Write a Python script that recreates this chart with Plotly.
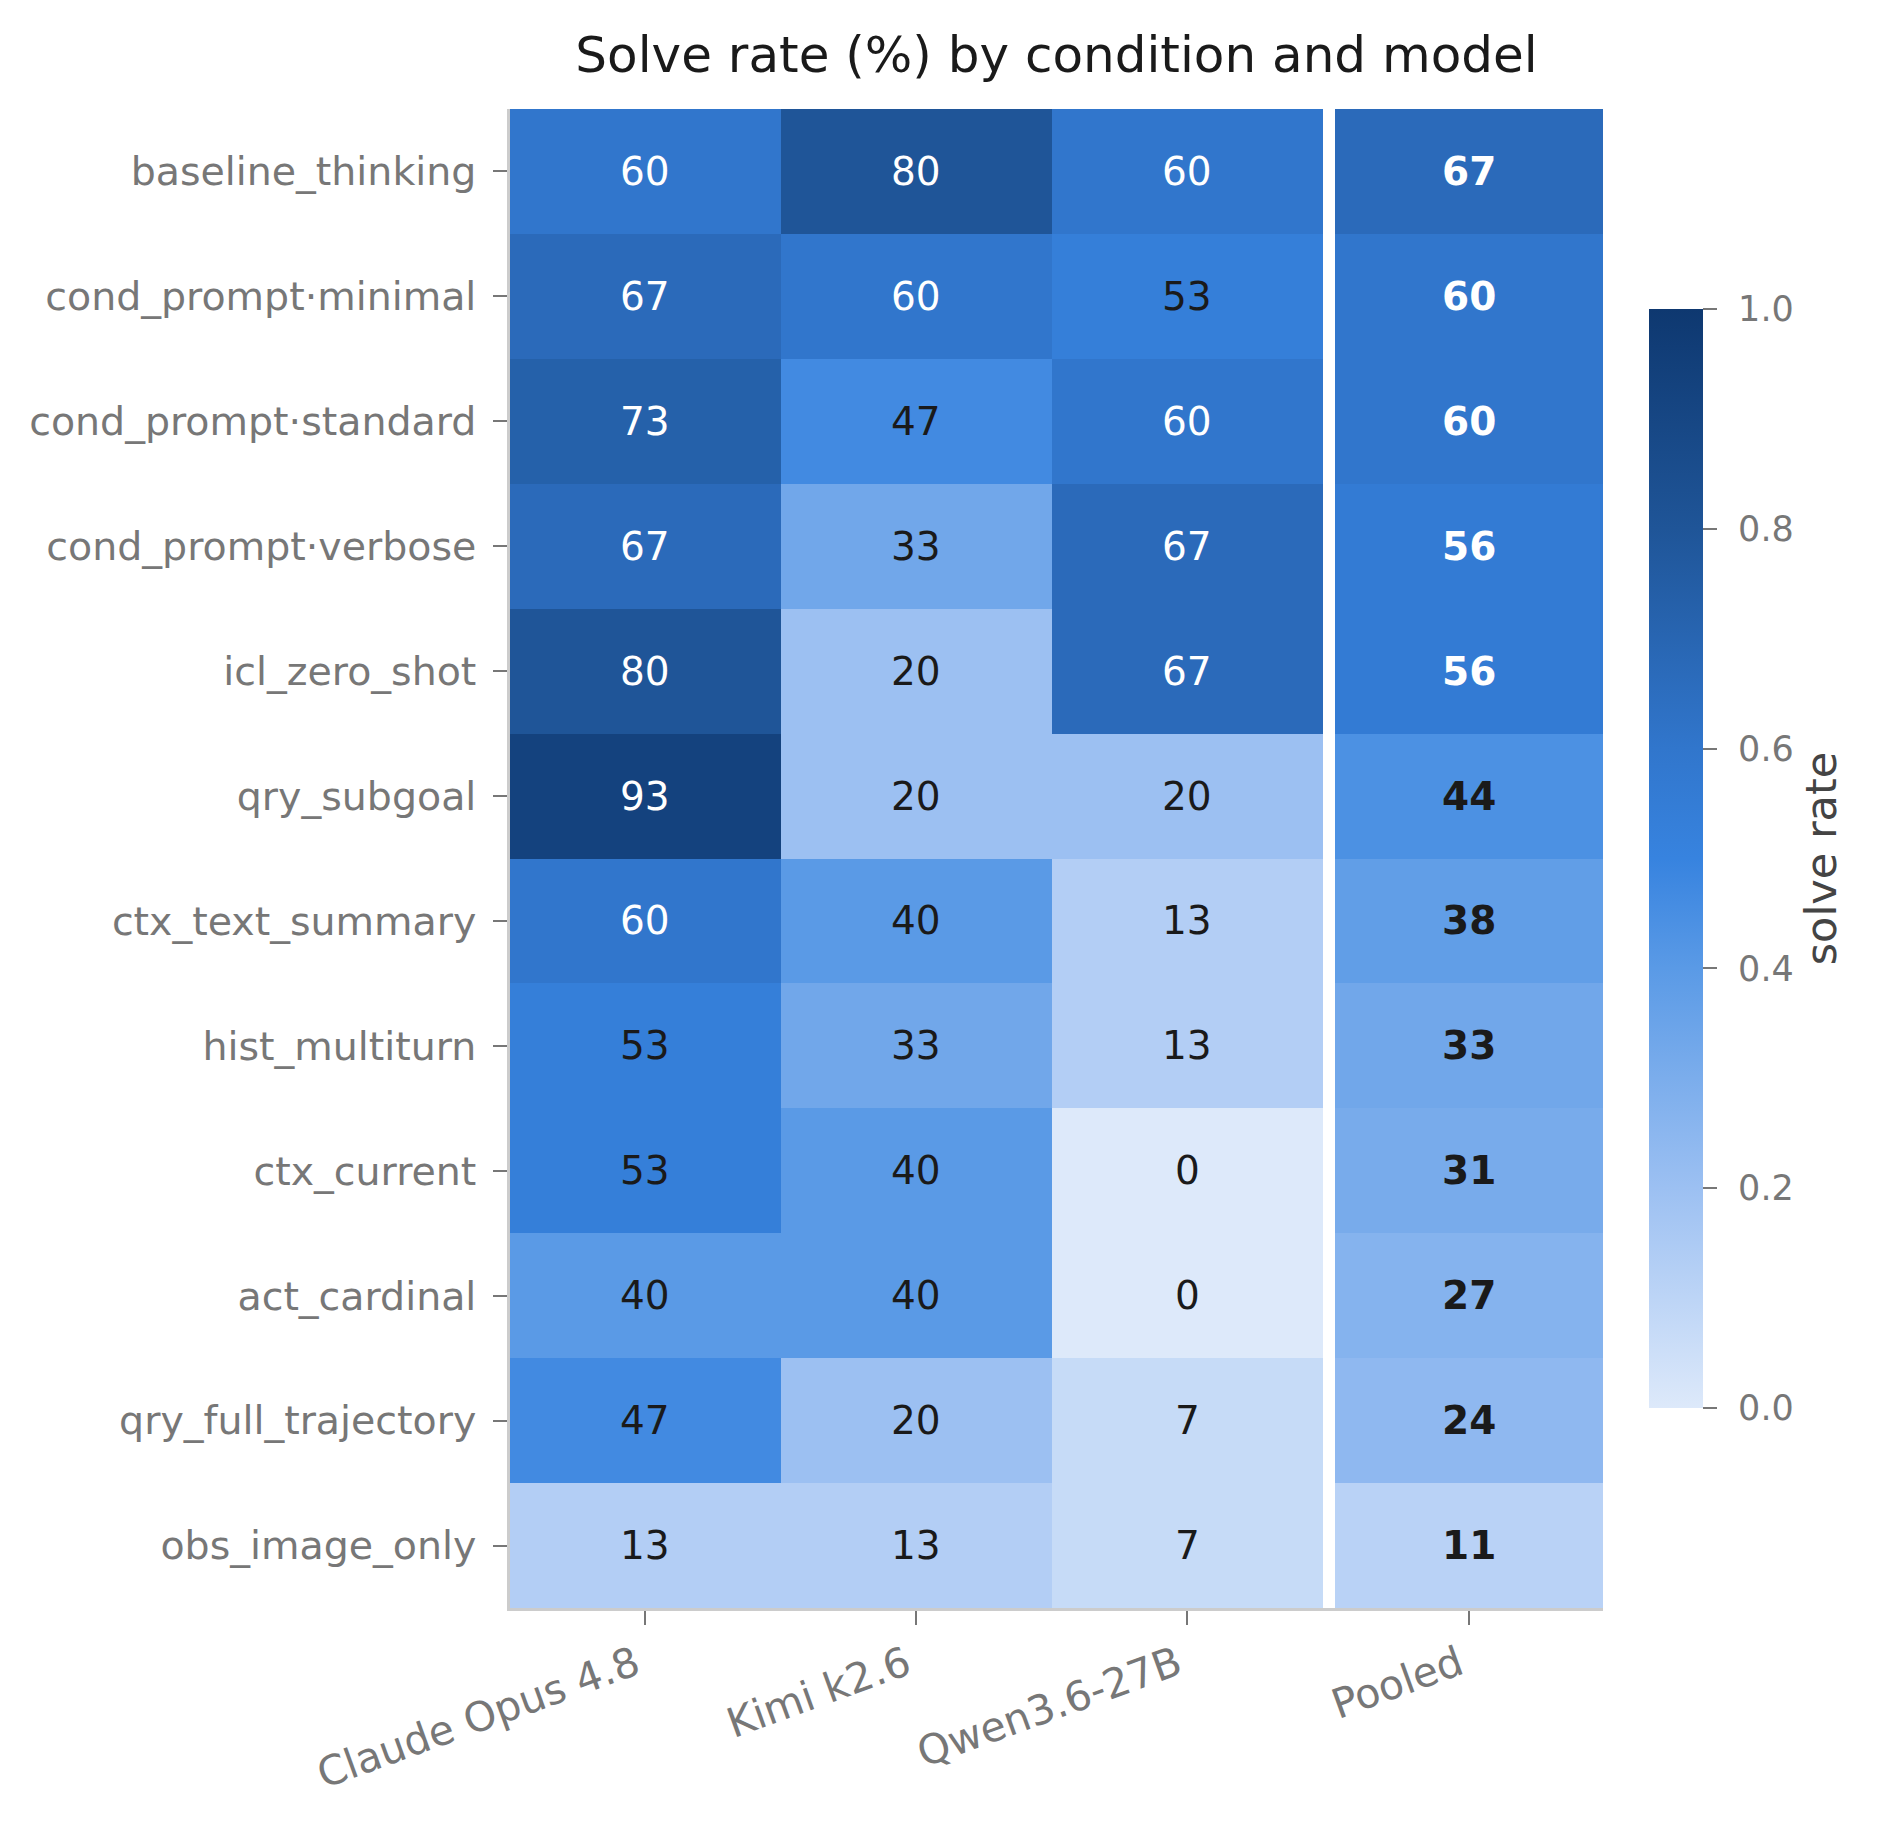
import plotly.graph_objects as go

conditions = [
    "baseline_thinking", "cond_prompt·minimal", "cond_prompt·standard",
    "cond_prompt·verbose", "icl_zero_shot", "qry_subgoal", "ctx_text_summary",
    "hist_multiturn", "ctx_current", "act_cardinal", "qry_full_trajectory",
    "obs_image_only",
]
columns = ["Claude Opus 4.8", "Kimi k2.6", "Qwen3.6-27B", "Pooled"]
claude = [60, 67, 73, 67, 80, 93, 60, 53, 53, 40, 47, 13]
kimi = [80, 60, 47, 33, 20, 20, 40, 33, 40, 40, 20, 13]
qwen = [60, 53, 60, 67, 67, 20, 13, 13, 0, 0, 7, 7]
pooled = [67, 60, 60, 56, 56, 44, 38, 33, 31, 27, 24, 11]
cbar_ticks = [0.0, 0.2, 0.4, 0.6, 0.8, 1.0]

GAP = 0.045
POOL_W = 0.989
x_edges = [0, 1, 2, 3, 3 + GAP, 3 + GAP + POOL_W]
y_edges = list(range(len(conditions) + 1))
col_centers = [0.5, 1.5, 2.5, 3 + GAP + POOL_W / 2]

series = [claude, kimi, qwen, pooled]
z = []
for i in range(len(conditions)):
    row = [claude[i] / 100, kimi[i] / 100, qwen[i] / 100, None, pooled[i] / 100]
    z.append(row)

colorscale = [
    [0.0, "#dde9fa"],
    [0.2, "#9cc0f2"],
    [0.4, "#5a9ae6"],
    [0.5, "#3783df"],
    [0.6, "#3176cc"],
    [0.8, "#1f5598"],
    [1.0, "#0e3870"],
]

fig = go.Figure()
fig.add_trace(go.Heatmap(
    x=x_edges, y=y_edges, z=z, zmin=0, zmax=1,
    colorscale=colorscale, hoverongaps=False, zsmooth=False,
    colorbar=dict(
        title=dict(text="solve rate", side="right",
                   font=dict(family="DejaVu Sans", size=43, color="#444444")),
        tickvals=cbar_ticks,
        ticktext=["\u00a0\u200a" + f"{t:.1f}" for t in cbar_ticks],
        tickfont=dict(family="DejaVu Sans", size=35, color="#777777"),
        x=1.042, xanchor="left", xref="paper", xpad=0, ypad=0,
        y=0.5, yanchor="middle", len=0.733, lenmode="fraction",
        thickness=54, thicknessmode="pixels", outlinewidth=0,
        ticks="outside", ticklen=14, tickwidth=2, tickcolor="#777777",
    ),
))

annotations = []
for j, vals in enumerate(series):
    for i, v in enumerate(vals):
        color = "#ffffff" if v / 100 > 0.55 else "#1a1a1a"
        txt = f"<b>{v}</b>" if j == 3 else str(v)
        annotations.append(dict(
            x=col_centers[j], y=i + 0.5, xref="x", yref="y", text=txt,
            showarrow=False,
            font=dict(family="DejaVu Sans", size=39, color=color),
        ))

fig.update_layout(
    width=1883, height=1826,
    margin=dict(l=502, r=288, t=101, b=226),
    paper_bgcolor="white", plot_bgcolor="white",
    font=dict(family="DejaVu Sans"),
    title=dict(text="Solve rate (%) by condition and model",
               x=0.5, xref="paper", y=1 - 46 / 1826, yref="container",
               xanchor="center", yanchor="middle",
               font=dict(family="DejaVu Sans", size=50, color="#1a1a1a")),
    annotations=annotations,
    xaxis=dict(range=[0, 3 + GAP + POOL_W], tickvals=col_centers, ticktext=columns,
               tickangle=-20, showgrid=False, zeroline=False,
               showline=True, linecolor="#cccccc", linewidth=2.5,
               ticks="outside", ticklen=14, tickwidth=2, tickcolor="#777777",
               ticklabelshift=-10,
               tickfont=dict(family="DejaVu Sans", size=41, color="#777777")),
    yaxis=dict(range=[len(conditions), 0], tickvals=[i + 0.5 for i in range(len(conditions))],
               ticktext=conditions, showgrid=False, zeroline=False,
               showline=True, linecolor="#cccccc", linewidth=2.5,
               ticks="outside", ticklen=14, tickwidth=2, tickcolor="#777777",
               ticklabelstandoff=9,
               tickfont=dict(family="DejaVu Sans", size=39.5, color="#777777")),
)

fig.write_html("out.html")
